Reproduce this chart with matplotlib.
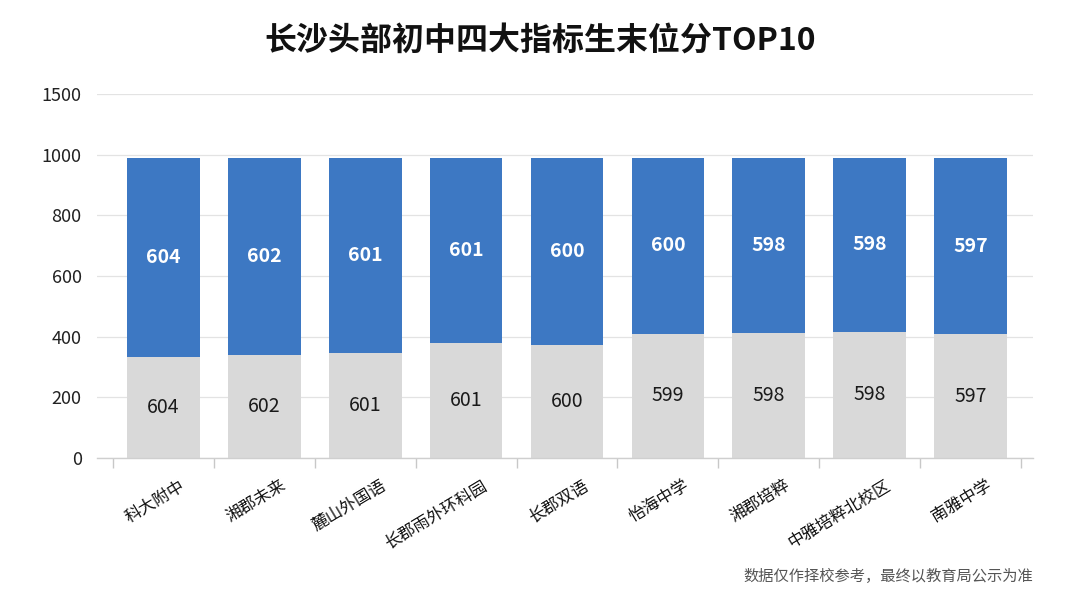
import matplotlib
matplotlib.use("Agg")
import matplotlib.pyplot as plt
import matplotlib.transforms as mtransforms
import numpy as np

plt.rcParams['font.family'] = ['Noto Sans CJK SC', 'DejaVu Sans']

schools = ['科大附中', '湘郡未来', '麓山外国语', '长郡雨外环科园', '长郡双语',
           '怡海中学', '湘郡培粹', '中雅培粹北校区', '南雅中学']
grey_heights = [333, 338, 346, 380, 373, 410, 413, 415, 407]
blue_heights = [657, 652, 644, 610, 617, 580, 577, 575, 583]
grey_labels = ['604', '602', '601', '601', '600', '599', '598', '598', '597']
blue_labels = ['604', '602', '601', '601', '600', '600', '598', '598', '597']
ytick_values = [0, 200, 400, 600, 800, 1000, 1200]
ytick_labels = ['0', '200', '400', '600', '800', '1000', '1500']

title = '长沙头部初中四大指标生末位分TOP10'
footnote = '数据仅作择校参考，最终以教育局公示为准'

BLUE = '#3d78c3'
GREY = '#d9d9d9'

fig = plt.figure(figsize=(10.8, 5.96), dpi=100)
ax = fig.add_axes([0.0898, 0.232, 0.8667, 0.610])

x = np.arange(len(schools))
w = 0.72
ax.bar(x, grey_heights, width=w, color=GREY, zorder=2)
ax.bar(x, blue_heights, width=w, bottom=grey_heights, color=BLUE, zorder=2)

for xi, g, b, gl, bl in zip(x, grey_heights, blue_heights, grey_labels, blue_labels):
    ax.text(xi, g / 2, gl, ha='center', va='center', fontsize=14,
            color='#1a1a1a', zorder=3)
    ax.text(xi, g + b / 2, bl, ha='center', va='center', fontsize=14,
            color='white', fontweight='semibold', zorder=3)

ax.set_ylim(0, 1200)
ax.set_xlim(-0.66, len(schools) - 1 + 0.62)
ax.set_yticks(ytick_values)
ax.set_yticklabels(ytick_labels, fontsize=13, color='#222222')
ax.tick_params(axis='y', length=0, pad=11)
ax.grid(axis='y', color='#e3e3e3', linewidth=0.9, zorder=0)
ax.set_axisbelow(True)

for s in ['top', 'right', 'left']:
    ax.spines[s].set_visible(False)
ax.spines['bottom'].set_color('#cfcfcf')
ax.spines['bottom'].set_linewidth(1.0)

ax.set_xticks(x)
ax.set_xticks(np.arange(len(schools) + 1) - 0.5, minor=True)
ax.tick_params(axis='x', which='major', length=0, pad=14)
ax.tick_params(axis='x', which='minor', length=7, color='#c8c8c8', width=1)
ax.set_xticklabels(schools, rotation=31, ha='right', fontsize=12, color='#111111')
offset = mtransforms.ScaledTranslation(24 / 100, 0, fig.dpi_scale_trans)
for lab in ax.get_xticklabels():
    lab.set_transform(lab.get_transform() + offset)

fig.text(0.5, 0.932, title, ha='center', va='center', fontsize=23,
         fontweight='bold', color='#111111')
fig.text(0.957, 0.032, footnote, ha='right', va='center', fontsize=11,
         color='#555555')

fig.savefig('out.png', dpi=100, facecolor='white')
